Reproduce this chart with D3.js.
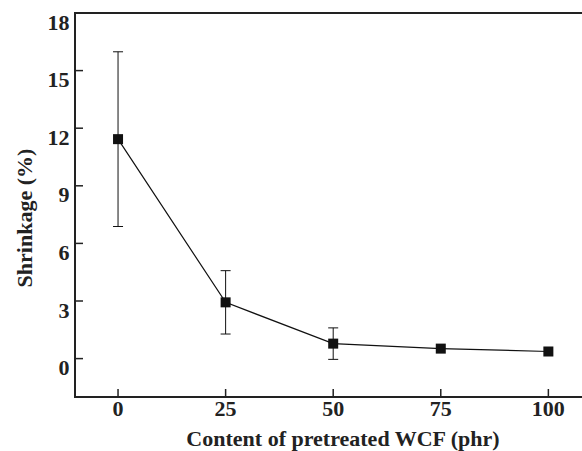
<!DOCTYPE html>
<html>
<head>
<meta charset="utf-8">
<script src="https://cdn.jsdelivr.net/npm/d3@7"></script>
<style>
  body { margin: 0; background: #fff; }
  text { font-family: "Liberation Serif", "Times New Roman", serif; font-weight: bold; fill: #222; }
</style>
</head>
<body>
<svg id="chart" width="582" height="451"></svg>
<script>
// data
let content = [0, 25, 50, 75, 100];
let shrinkage = [11.43, 2.93, 0.78, 0.52, 0.37];
let errors = [4.55, 1.65, 0.82, 0, 0];
let xTicks = [0, 25, 50, 75, 100];
let yTicks = [0, 3, 6, 9, 12, 15, 18];

let svg = d3.select("#chart");

let x = d3.scaleLinear().domain([-10, 110]).range([75, 591.4]);
let y = d3.scaleLinear().domain([-2, 18]).range([397, 13]);

let g = svg.append("g");

// frame: left, bottom, top
g.append("path")
    .attr("d", "M" + x(110) + "," + y(18) + " L" + x(-10) + "," + y(18)
        + " L" + x(-10) + "," + y(-2) + " L" + x(110) + "," + y(-2))
    .attr("fill", "none")
    .attr("stroke", "#222")
    .attr("stroke-width", 2);

// y ticks (inward)
g.selectAll(".ytick")
    .data(yTicks.filter(d => d < 18))
    .enter().append("line")
    .attr("x1", x(-10)).attr("x2", x(-10) + 8)
    .attr("y1", d => y(d)).attr("y2", d => y(d))
    .attr("stroke", "#222").attr("stroke-width", 1.5);

g.selectAll(".ylab")
    .data(yTicks)
    .enter().append("text")
    .attr("x", 69.5)
    .attr("y", d => y(d) + 16.5)
    .attr("text-anchor", "end")
    .style("font-size", "22px")
    .text(d => d);

// x ticks (inward)
g.selectAll(".xtick")
    .data(xTicks)
    .enter().append("line")
    .attr("x1", d => x(d)).attr("x2", d => x(d))
    .attr("y1", y(-2)).attr("y2", y(-2) - 8)
    .attr("stroke", "#222").attr("stroke-width", 1.5);

g.selectAll(".xlab")
    .data(xTicks)
    .enter().append("text")
    .attr("x", d => x(d))
    .attr("y", 415.5)
    .attr("text-anchor", "middle")
    .style("font-size", "22px")
    .text(d => d);

// axis titles
g.append("text")
    .attr("x", 343).attr("y", 446)
    .attr("text-anchor", "middle")
    .style("font-size", "22px")
    .text("Content of pretreated WCF (phr)");

g.append("text")
    .attr("transform", "translate(31.5,218) rotate(-90)")
    .attr("text-anchor", "middle")
    .style("font-size", "22px")
    .text("Shrinkage (%)");

let pts = content.map((c, i) => ({x: c, y: shrinkage[i], e: errors[i]}));

// error bars
let eb = g.selectAll(".err")
    .data(pts.filter(d => d.e > 0))
    .enter().append("g")
    .attr("stroke", "#111").attr("stroke-width", 1);
eb.append("line")
    .attr("x1", d => x(d.x)).attr("x2", d => x(d.x))
    .attr("y1", d => y(d.y - d.e)).attr("y2", d => y(d.y + d.e));
eb.append("line")
    .attr("x1", d => x(d.x) - 5).attr("x2", d => x(d.x) + 5)
    .attr("y1", d => y(d.y + d.e)).attr("y2", d => y(d.y + d.e));
eb.append("line")
    .attr("x1", d => x(d.x) - 5).attr("x2", d => x(d.x) + 5)
    .attr("y1", d => y(d.y - d.e)).attr("y2", d => y(d.y - d.e));

// line
let line = d3.line().x(d => x(d.x)).y(d => y(d.y));
g.append("path")
    .datum(pts)
    .attr("d", line)
    .attr("fill", "none")
    .attr("stroke", "#111")
    .attr("stroke-width", 1.2);

// square markers
g.selectAll(".pt")
    .data(pts)
    .enter().append("rect")
    .attr("x", d => x(d.x) - 5)
    .attr("y", d => y(d.y) - 5)
    .attr("width", 10).attr("height", 10)
    .attr("fill", "#111");
</script>
</body>
</html>
